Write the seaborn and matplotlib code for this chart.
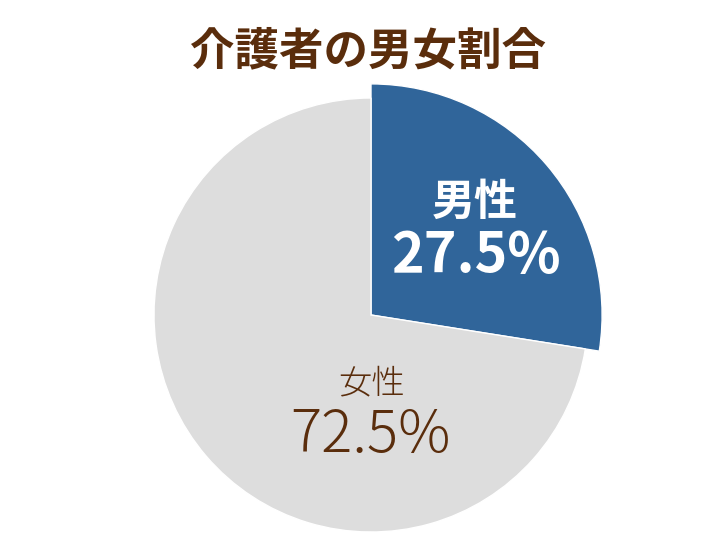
import numpy as np
import matplotlib.pyplot as plt
import seaborn as sns

# data
labels = ['男性', '女性']
shares = [27.5, 72.5]
colors = ['#30659A', '#DDDDDD']
title = '介護者の男女割合'

sns.set_style("white")
plt.rcParams['font.family'] = ['Noto Sans CJK JP', 'DejaVu Sans']

W, H = 726, 545
fig = plt.figure(figsize=(W / 100, H / 100), dpi=100)
ax = fig.add_axes([0, 0, 1, 1])

cx, cy, r = 371, H - 315, 217
wedges, _ = ax.pie(shares, colors=colors, startangle=90, counterclock=False,
                   center=(cx, cy), radius=r, frame=True)
# the men's slice sticks out a bit in the original
wedges[0].set_radius(r * 1.065)
ax.set_xlim(0, W)
ax.set_ylim(0, H)
ax.set_aspect('equal')
ax.axis('off')

brown = '#5A2D0C'
ax.text(368, H - 51, title, ha='center', va='center', fontsize=32,
        fontweight='bold', color=brown)

ax.text(475, H - 202, labels[0], ha='center', va='center', fontsize=31,
        fontweight='bold', color='white')
ax.text(476, H - 256, f'{shares[0]}%', ha='center', va='center', fontsize=40,
        fontweight='bold', color='white')

ax.text(372, H - 384, labels[1], ha='center', va='center', fontsize=24,
        fontweight='light', color=brown)
ax.text(370, H - 436, f'{shares[1]}%', ha='center', va='center', fontsize=42,
        fontweight='light', color=brown)

fig.savefig('out.png', dpi=100)
